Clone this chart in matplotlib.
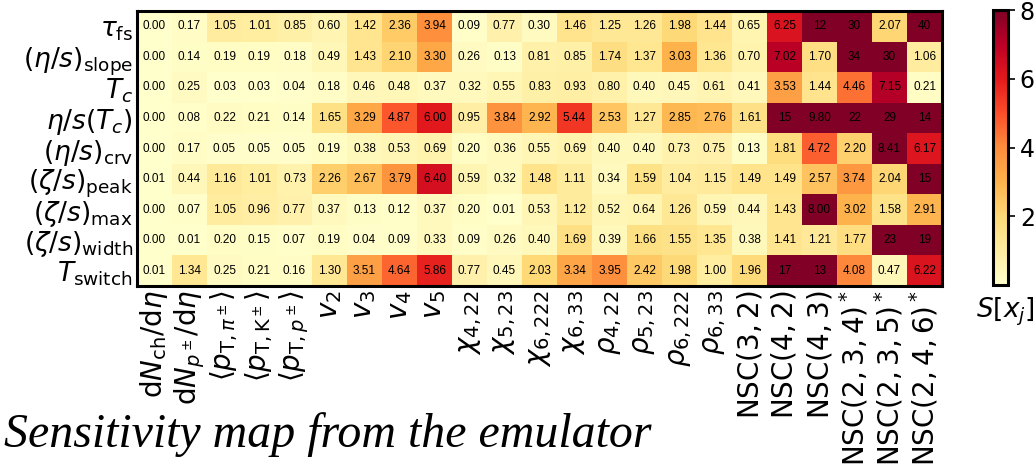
import numpy as np
import matplotlib
matplotlib.use("Agg")
import matplotlib.pyplot as plt

row_labels = [r'$\tau_\mathrm{fs}$', r'$(\eta/s)_\mathrm{slope}$', r'$T_c$', r'$\eta/s(T_c)$',
              r'$(\eta/s)_\mathrm{crv}$', r'$(\zeta/s)_\mathrm{peak}$', r'$(\zeta/s)_\mathrm{max}$',
              r'$(\zeta/s)_\mathrm{width}$', r'$T_\mathrm{switch}$']
col_labels = [r'$\mathrm{d}N_\mathrm{ch}/\mathrm{d}\eta$', r'$\mathrm{d}N_{p^\pm}/\mathrm{d}\eta$',
              r'$\langle p_{\mathrm{T},\pi^\pm}\rangle$', r'$\langle p_{\mathrm{T},\mathrm{K}^\pm}\rangle$',
              r'$\langle p_{\mathrm{T},p^\pm}\rangle$', r'$v_2$', r'$v_3$', r'$v_4$', r'$v_5$',
              r'$\chi_{4,22}$', r'$\chi_{5,23}$', r'$\chi_{6,222}$', r'$\chi_{6,33}$',
              r'$\rho_{4,22}$', r'$\rho_{5,23}$', r'$\rho_{6,222}$', r'$\rho_{6,33}$',
              r'$\mathrm{NSC}(3,2)$', r'$\mathrm{NSC}(4,2)$', r'$\mathrm{NSC}(4,3)$',
              r'$\mathrm{NSC}(2,3,4)^*$', r'$\mathrm{NSC}(2,3,5)^*$', r'$\mathrm{NSC}(2,4,6)^*$']

tau_fs      = [0.00, 0.17, 1.05, 1.01, 0.85, 0.60, 1.42, 2.36, 3.94, 0.09, 0.77, 0.30, 1.46, 1.25, 1.26, 1.98, 1.44, 0.65, 6.25, 12, 30, 2.07, 40]
eta_slope   = [0.00, 0.14, 0.19, 0.19, 0.18, 0.49, 1.43, 2.10, 3.30, 0.26, 0.13, 0.81, 0.85, 1.74, 1.37, 3.03, 1.36, 0.70, 7.02, 1.70, 34, 30, 1.06]
T_c         = [0.00, 0.25, 0.03, 0.03, 0.04, 0.18, 0.46, 0.48, 0.37, 0.32, 0.55, 0.83, 0.93, 0.80, 0.40, 0.45, 0.61, 0.41, 3.53, 1.44, 4.46, 7.15, 0.21]
eta_Tc      = [0.00, 0.08, 0.22, 0.21, 0.14, 1.65, 3.29, 4.87, 6.00, 0.95, 3.84, 2.92, 5.44, 2.53, 1.27, 2.85, 2.76, 1.61, 15, 9.80, 22, 29, 14]
eta_crv     = [0.00, 0.17, 0.05, 0.05, 0.05, 0.19, 0.38, 0.53, 0.69, 0.20, 0.36, 0.55, 0.69, 0.40, 0.40, 0.73, 0.75, 0.13, 1.81, 4.72, 2.20, 8.41, 6.17]
zeta_peak   = [0.01, 0.44, 1.16, 1.01, 0.73, 2.26, 2.67, 3.79, 6.40, 0.59, 0.32, 1.48, 1.11, 0.34, 1.59, 1.04, 1.15, 1.49, 1.49, 2.57, 3.74, 2.04, 15]
zeta_max    = [0.00, 0.07, 1.05, 0.96, 0.77, 0.37, 0.13, 0.12, 0.37, 0.20, 0.01, 0.53, 1.12, 0.52, 0.64, 1.26, 0.59, 0.44, 1.43, 8.00, 3.02, 1.58, 2.91]
zeta_width  = [0.00, 0.01, 0.20, 0.15, 0.07, 0.19, 0.04, 0.09, 0.33, 0.09, 0.26, 0.40, 1.69, 0.39, 1.66, 1.55, 1.35, 0.38, 1.41, 1.21, 1.77, 23, 19]
T_switch    = [0.01, 1.34, 0.25, 0.21, 0.16, 1.30, 3.51, 4.64, 5.86, 0.77, 0.45, 2.03, 3.34, 3.95, 2.42, 1.98, 1.00, 1.96, 17, 13, 4.08, 0.47, 6.22]

data = np.array([tau_fs, eta_slope, T_c, eta_Tc, eta_crv, zeta_peak, zeta_max, zeta_width, T_switch])
nr, nc = data.shape

fig = plt.figure(figsize=(10.36, 4.70), dpi=100)
W, H = 1036, 470
ax = fig.add_axes([137/W, 1-286/H, (942-137)/W, (286-11)/H])
cax = fig.add_axes([993/W, 1-285/H, 15/W, (285-10)/H])

mesh = ax.pcolormesh(np.arange(nc+1), np.arange(nr+1), data, cmap='YlOrRd', vmin=0, vmax=8)
ax.set_xlim(0, nc)
ax.set_ylim(nr, 0)
for i in range(nr):
    for j in range(nc):
        v = data[i, j]
        s = f"{v:.0f}" if v >= 10 else f"{v:.2f}"
        ax.text(j+0.5, i+0.5, s, ha='center', va='center', fontsize=8.5,
                family='Liberation Sans', color='black')

ax.set_xticks(np.arange(nc)+0.5)
ax.set_xticklabels(col_labels, rotation=90, fontsize=20, va='top')
ax.set_yticks(np.arange(nr)+0.5)
ax.set_yticklabels(row_labels, fontsize=19)
ax.tick_params(length=0, pad=3)
for sp in ax.spines.values():
    sp.set_linewidth(2.2)

cb = fig.colorbar(mesh, cax=cax, ticks=[2, 4, 6, 8])
cb.outline.set_linewidth(2.2)
cax.tick_params(labelsize=17, length=5, width=1.2)

fig.text(1005/W, 1-312/H, r'$S[x_j]$', ha='center', va='center', fontsize=19)
fig.text(4/W, 1-447/H, 'Sensitivity map from the emulator', ha='left', va='baseline',
         fontsize=34.5, family='Liberation Serif', style='italic')

fig.savefig('out.png', dpi=100)
